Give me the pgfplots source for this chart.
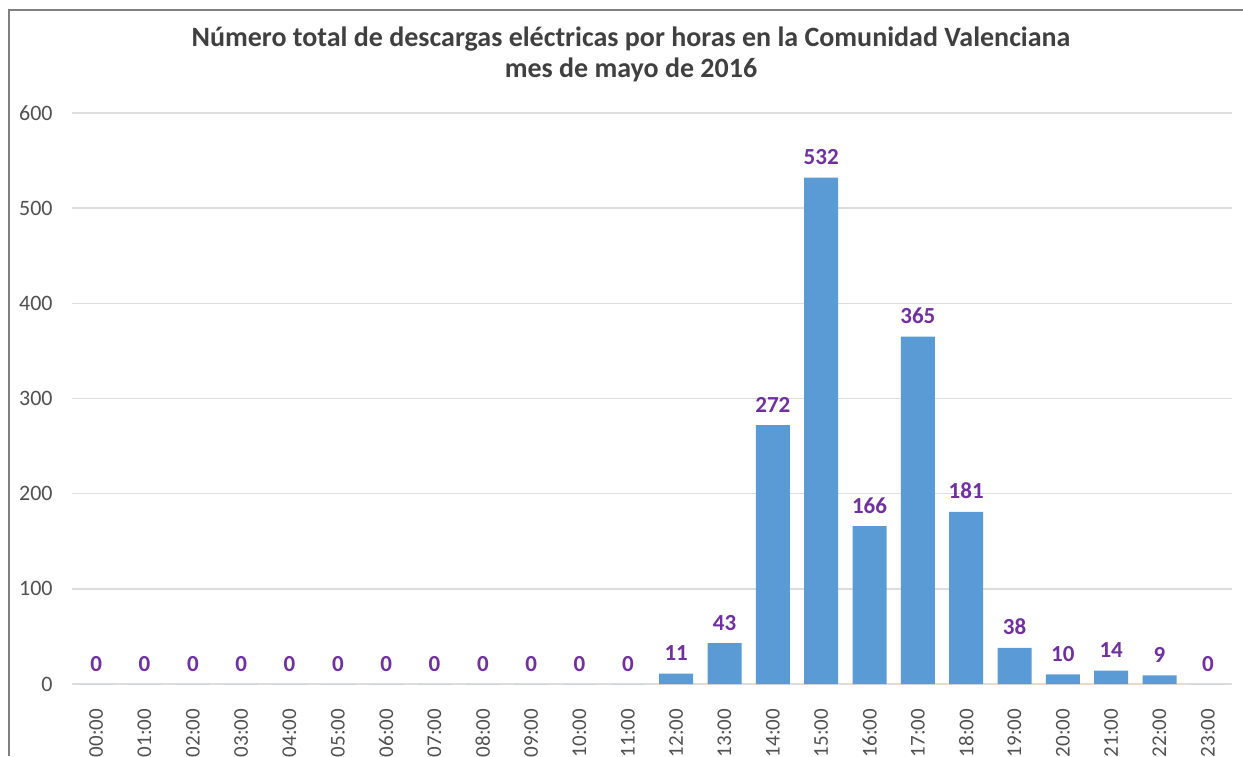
\documentclass[border=0pt]{standalone}
\usepackage{fontspec}
\setmainfont{Carlito}
\usepackage{pgfplots}
\pgfplotsset{compat=1.18}
\definecolor{barblue}{HTML}{5B9BD5}
\definecolor{labpurple}{HTML}{7030A0}
\definecolor{ticktext}{HTML}{505050}
\definecolor{titletext}{HTML}{404040}
\definecolor{gridgray}{HTML}{DDDDDD}
\definecolor{framegray}{HTML}{808080}

\begin{document}
\begin{tikzpicture}[x=1pt,y=1pt]
% page = 1243x756 px at 2 px per pt; origin at bottom-left of plot area
\path[use as bounding box] (-36,-36) rectangle (585.5,342);
\draw[framegray, line width=1pt] (-31.75,-36) -- (-31.75,337) -- (585.5,337);
\node[anchor=base, text=titletext, font=\bfseries\fontsize{14}{16}\selectfont]
  at (279.5,318.5) {Número total de descargas eléctricas por horas en la Comunidad Valenciana};
\node[anchor=base, text=titletext, font=\bfseries\fontsize{14}{16}\selectfont]
  at (279.5,303) {mes de mayo de 2016};
\begin{axis}[
    at={(0,0)}, anchor=south west,
    scale only axis, width=580pt, height=285.5pt,
    xmin=-0.5, xmax=23.5, ymin=0, ymax=600,
    ybar, bar width=17pt,
    axis line style={draw=none}, tick style={draw=none},
    ytick={0,100,...,600}, ymajorgrids,
    grid style={gridgray, line width=0.75pt},
    xtick={0,...,23},
    xticklabels={00:00,01:00,02:00,03:00,04:00,05:00,06:00,07:00,08:00,09:00,10:00,11:00,
                 12:00,13:00,14:00,15:00,16:00,17:00,18:00,19:00,20:00,21:00,22:00,23:00},
    /pgf/number format/assume math mode=true,
    xticklabel style={rotate=90, anchor=east, inner sep=0pt, text=ticktext,
                      font=\fontsize{10.5}{12}\selectfont},
    xticklabel shift=8pt,
    yticklabel style={anchor=east, inner sep=0pt, text=ticktext,
                      font=\fontsize{11}{13}\selectfont},
    yticklabel shift=9.5pt,
    nodes near coords,
    nodes near coords style={anchor=base, inner sep=0pt, yshift=6.5pt, text=labpurple,
                             font=\bfseries\fontsize{11.5}{13}\selectfont},
    clip=false,
]
\addplot[fill=barblue, draw=none] coordinates {
  (0,0) (1,0) (2,0) (3,0) (4,0) (5,0) (6,0) (7,0) (8,0) (9,0) (10,0) (11,0)
  (12,11) (13,43) (14,272) (15,532) (16,166) (17,365) (18,181) (19,38)
  (20,10) (21,14) (22,9) (23,0)};
\end{axis}
\end{tikzpicture}
\end{document}
